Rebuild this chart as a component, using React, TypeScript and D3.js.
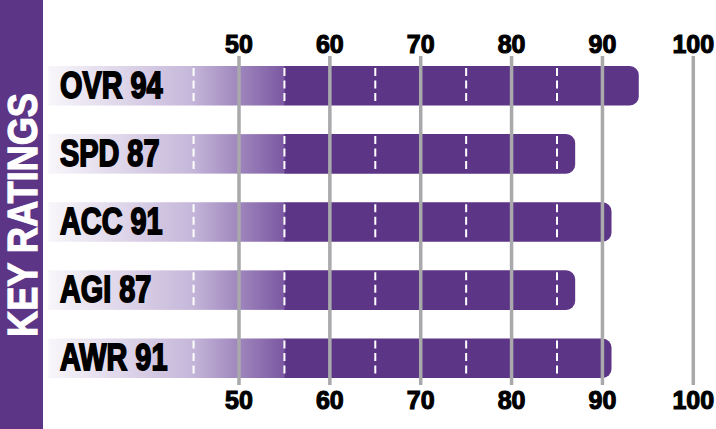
import React from 'react';
import * as d3 from 'd3';

const categories = ['OVR', 'SPD', 'ACC', 'AGI', 'AWR'];
const ratings = [94, 87, 91, 87, 91];
const gridTicks = [50, 60, 70, 80, 90, 100];
const dashTicks = [45, 55, 65, 75, 85];
const title = 'KEY RATINGS';

const W = 716;
const H = 429;
const PURPLE = '#5d3587';
const GRID = '#a9a9ac';
const FONT = '"Liberation Sans", Arial, Helvetica, sans-serif';

// bar fades in from the label area up to the 55 mark, then solid
const BAR_START = 29;
const FADE_END = 55;

const App = () => {
  const x = d3.scaleLinear().domain([50, 100]).range([239, 693.3]);
  const y = d3
    .scaleBand<string>()
    .domain(categories)
    .range([66, 378])
    .paddingInner(0.42)
    .paddingOuter(0);
  const bh = y.bandwidth();
  const r = 9;

  // rounded right end only
  const solidPath = (v: number, top: number) => {
    const x0 = x(FADE_END);
    const x1 = x(v);
    const p = d3.path();
    p.moveTo(x0, top);
    p.lineTo(x1 - r, top);
    p.arcTo(x1, top, x1, top + r, r);
    p.lineTo(x1, top + bh - r);
    p.arcTo(x1, top + bh, x1 - r, top + bh, r);
    p.lineTo(x0, top + bh);
    p.closePath();
    return p.toString();
  };

  return (
    <svg
      width={W}
      height={H}
      style={{ position: 'absolute', left: 0, top: 0, background: '#fff' }}
    >
      <defs>
        <linearGradient
          id="fade"
          gradientUnits="userSpaceOnUse"
          x1={x(BAR_START)}
          x2={x(FADE_END)}
          y1={0}
          y2={0}
        >
          <stop offset="0" stopColor="#f8f6fa" />
          <stop offset="0.6" stopColor="#c6b8da" />
          <stop offset="1" stopColor="#7b58a2" />
        </linearGradient>
      </defs>

      {/* left title band */}
      <rect x={0} y={0} width={43} height={H} fill={PURPLE} />
      <text
        transform="translate(37,215) rotate(-90)"
        textAnchor="middle"
        fill="#fff"
        stroke="#fff"
        strokeWidth={1.2}
        fontFamily={FONT}
        fontWeight="bold"
        fontSize={43}
        textLength={244}
        lengthAdjust="spacingAndGlyphs"
      >
        {title}
      </text>

      {/* bars */}
      {categories.map((c, i) => {
        const top = y(c) as number;
        return (
          <g key={c}>
            <rect
              x={x(BAR_START)}
              y={top}
              width={x(FADE_END) - x(BAR_START) + 0.5}
              height={bh}
              fill="url(#fade)"
            />
            <path d={solidPath(ratings[i], top)} fill={PURPLE} />
            {dashTicks
              .filter((t) => t < ratings[i])
              .map((t) => (
                <line
                  key={t}
                  x1={x(t)}
                  x2={x(t)}
                  y1={top + 2}
                  y2={top + bh - 1}
                  stroke="#fff"
                  strokeWidth={2}
                  strokeDasharray="8,4.5"
                />
              ))}
          </g>
        );
      })}

      {/* gridlines */}
      {gridTicks.map((t) => (
        <line
          key={t}
          x1={x(t)}
          x2={x(t)}
          y1={56}
          y2={385}
          stroke={GRID}
          strokeWidth={3.5}
        />
      ))}

      {/* tick labels top and bottom */}
      {gridTicks.map((t) => (
        <g key={'l' + t} fontFamily={FONT} fontWeight="bold" fontSize={25}>
          <text x={x(t)} y={53} textAnchor="middle" fill="#000" stroke="#000" strokeWidth={1.1}>
            {t}
          </text>
          <text x={x(t)} y={409} textAnchor="middle" fill="#000" stroke="#000" strokeWidth={1.1}>
            {t}
          </text>
        </g>
      ))}

      {/* row labels */}
      {categories.map((c, i) => {
        const top = y(c) as number;
        return (
          <text
            key={'t' + c}
            transform={`translate(60,${top + 32}) scale(0.78,1)`}
            fill="#000"
            stroke="#000"
            strokeWidth={1.8}
            fontFamily={FONT}
            fontWeight="bold"
            fontSize={37}
          >
            {c} {ratings[i]}
          </text>
        );
      })}
    </svg>
  );
};

export default App;
